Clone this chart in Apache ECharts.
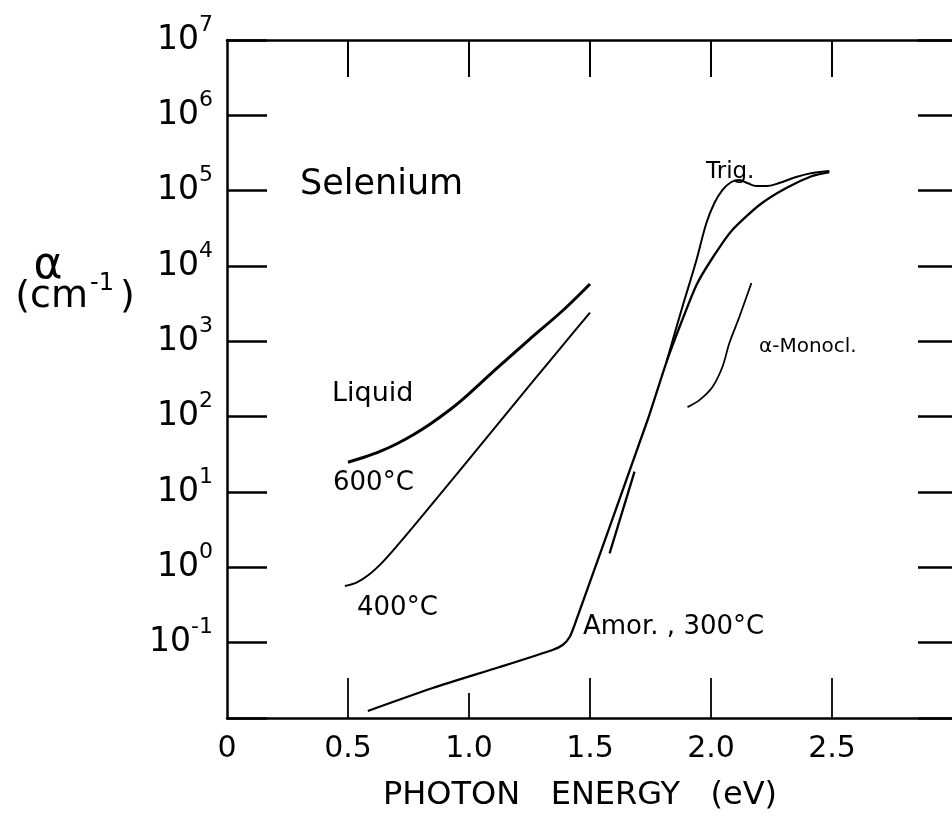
<!DOCTYPE html>
<html><head><meta charset="utf-8">
<script src="https://cdn.jsdelivr.net/npm/echarts@6/dist/echarts.min.js"></script>
<style>html,body{margin:0;padding:0;background:#fff}#c{width:952px;height:825px}</style>
</head><body><div id="c"></div>
<script>
// ---- data (photon energy in eV, absorption coefficient alpha in cm^-1) ----
const xTickLabels = ['0', '0.5', '1.0', '1.5', '2.0', '2.5'];
const yTickExponents = [-1, 0, 1, 2, 3, 4, 5, 6, 7];

const liquid600 = [[0.50, 24.8], [0.56, 28.5], [0.63, 34.3], [0.70, 43.4], [0.77, 57.6], [0.84, 80], [0.91, 116], [0.975, 171], [1.11, 425], [1.25, 1064], [1.39, 2606], [1.50, 5770]];
const liquid400 = [[0.487, 0.565], [0.535, 0.625], [0.59, 0.815], [0.645, 1.19], [0.70, 1.88], [0.77, 3.46], [0.975, 21.7], [1.18, 138], [1.36, 693], [1.50, 2400]];
const amorphous300 = [[0.582, 0.0124], [0.85, 0.025], [1.127, 0.0475], [1.345, 0.080], [1.387, 0.093], [1.416, 0.119], [1.436, 0.171], [1.738, 90.3], [1.816, 531], [1.878, 1805], [1.94, 5600], [2.006, 12770], [2.088, 30060], [2.20, 64570], [2.311, 108400], [2.418, 156600], [2.489, 176800]];
const amorphousShort = [[1.581, 1.53], [1.684, 18.6]];
const trigonal = [[1.816, 531], [1.878, 2606], [1.94, 12020], [1.981, 37200], [2.014, 68550], [2.047, 102000], [2.084, 130300], [2.117, 138500], [2.15, 126400], [2.187, 115300], [2.229, 115300], [2.282, 126400], [2.352, 151800], [2.418, 171500], [2.489, 182400]];
const monoclinic = [[1.903, 134], [1.952, 166], [2.006, 248], [2.047, 456], [2.076, 950], [2.117, 2104], [2.167, 5943]];

const chart = echarts.init(document.getElementById('c'), null, { renderer: 'canvas' });
const FONT = 'DejaVu Sans';
const K = '#000';

function curve(name, data, width, smooth) {
  return { name, type: 'line', data, symbol: 'none', showSymbol: false, smooth,
    lineStyle: { color: K, width }, silent: true, z: 3 };
}

const xBase = { type: 'value', min: 0, max: 3, interval: 0.5, splitLine: { show: false } };
const yBase = { type: 'log', logBase: 10, min: 0.01, max: 1e7, interval: 1, splitNumber: 9, splitLine: { show: false }, minorTick: { show: false } };

const option = {
  animation: false,
  backgroundColor: '#fff',
  grid: { left: 227, top: 40, width: 726, height: 678, containLabel: false, outerBoundsMode: 'none' },
  xAxis: [
    Object.assign({}, xBase, {
      position: 'bottom',
      axisLine: { show: true, onZero: false, lineStyle: { color: K, width: 2.5 } },
      axisTick: { show: true, inside: true, length: 40, customValues: [0.5, 1.5, 2.0, 2.5], lineStyle: { color: K, width: 1.8 } },
      axisLabel: { show: true, margin: 16, fontFamily: FONT, fontSize: 30, color: K,
        formatter: v => { const i = Math.round(v / 0.5); return i < xTickLabels.length ? xTickLabels[i] : ''; } },
      name: 'PHOTON   ENERGY   (eV)', nameLocation: 'middle', nameGap: 62,
      nameTextStyle: { fontFamily: FONT, fontSize: 32, color: K, padding: [0, 20, 0, 0] }
    }),
    Object.assign({}, xBase, {
      position: 'bottom',
      axisLine: { show: false, onZero: false },
      axisTick: { show: true, inside: true, length: 25, customValues: [1.0], lineStyle: { color: K, width: 1.8 } },
      axisLabel: { show: false }
    }),
    Object.assign({}, xBase, {
      position: 'top',
      axisLine: { show: true, onZero: false, lineStyle: { color: K, width: 2.5 } },
      axisTick: { show: true, inside: true, length: 37, customValues: [0.5, 1.0, 1.5, 2.0, 2.5], lineStyle: { color: K, width: 2 } },
      axisLabel: { show: false }
    })
  ],
  yAxis: [
    Object.assign({}, yBase, {
      position: 'left',
      axisLine: { show: true, onZero: false, lineStyle: { color: K, width: 2.5 } },
      axisTick: { show: true, inside: true, length: 40, lineStyle: { color: K, width: 2.5 } },
      axisLabel: { show: true, margin: 14, color: K,
        formatter: v => { const e = Math.round(Math.log10(v)); return yTickExponents.includes(e) ? '{b|10}{s|' + e + '}' : ''; },
        rich: {
          b: { fontFamily: FONT, fontSize: 33, lineHeight: 52, verticalAlign: 'middle', color: K },
          s: { fontFamily: FONT, fontSize: 22, lineHeight: 14, verticalAlign: 'top', color: K }
        } }
    }),
    Object.assign({}, yBase, {
      position: 'right',
      axisLine: { show: false, onZero: false },
      axisTick: { show: true, inside: true, length: 35, lineStyle: { color: K, width: 2.5 } },
      axisLabel: { show: false }
    })
  ],
  series: [
    curve('Liquid 600°C', liquid600, 3, 0.3),
    curve('400°C', liquid400, 2, 0.3),
    curve('Amor., 300°C', amorphous300, 2.3, 0.2),
    curve('Amor. (segment)', amorphousShort, 2.3, false),
    curve('Trig.', trigonal, 2, 0.4),
    curve('α-Monocl.', monoclinic, 1.8, 0.3)
  ],
  graphic: [
    { type: 'text', x: 300, y: 185, style: { text: 'Selenium', fontFamily: FONT, fontSize: 35, fill: K, align: 'left', verticalAlign: 'middle' } },
    { type: 'text', x: 706, y: 172, style: { text: 'Trig.', fontFamily: FONT, fontSize: 23, fill: K, align: 'left', verticalAlign: 'middle' } },
    { type: 'text', x: 759, y: 347, style: { text: 'α-Monocl.', fontFamily: FONT, fontSize: 20, fill: K, align: 'left', verticalAlign: 'middle' } },
    { type: 'text', x: 332, y: 394, style: { text: 'Liquid', fontFamily: FONT, fontSize: 27, fill: K, align: 'left', verticalAlign: 'middle' } },
    { type: 'text', x: 333, y: 483, style: { text: '600°C', fontFamily: FONT, fontSize: 26, fill: K, align: 'left', verticalAlign: 'middle' } },
    { type: 'text', x: 357, y: 608, style: { text: '400°C', fontFamily: FONT, fontSize: 26, fill: K, align: 'left', verticalAlign: 'middle' } },
    { type: 'text', x: 583, y: 627, style: { text: 'Amor. , 300°C', fontFamily: FONT, fontSize: 26, fill: K, align: 'left', verticalAlign: 'middle' } },
    { type: 'text', x: 48, y: 267, style: { text: 'α', fontFamily: FONT, fontSize: 44, fill: K, align: 'center', verticalAlign: 'middle' } },
    { type: 'text', x: 75, y: 297, style: { text: '{a|(cm}{s|-1}{a|)}', fill: K, align: 'center', verticalAlign: 'middle',
      rich: {
        a: { fontFamily: FONT, fontSize: 38, lineHeight: 50, verticalAlign: 'middle', fill: K },
        s: { fontFamily: FONT, fontSize: 24, lineHeight: 14, verticalAlign: 'top', padding: [0, 6, 0, 2], fill: K }
      } } }
  ]
};
chart.setOption(option);
</script>
</body></html>
